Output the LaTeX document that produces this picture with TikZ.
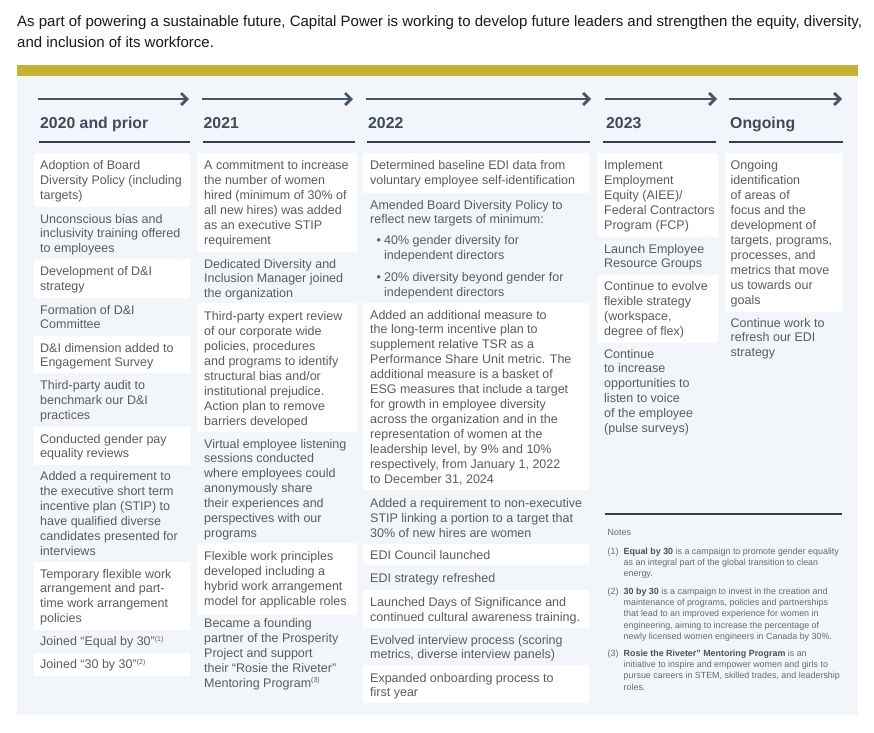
\documentclass[tikz,border=0pt]{standalone}
\usepackage{fontspec}
\setmainfont{Liberation Sans}
\usetikzlibrary{arrows.meta}
\definecolor{panel}{RGB}{242,245,249}
\definecolor{gold}{RGB}{196,178,50}
\definecolor{txt}{RGB}{92,92,92}
\definecolor{titlec}{RGB}{25,25,25}
\definecolor{head}{RGB}{62,75,88}
\definecolor{arrowc}{RGB}{72,86,99}
\definecolor{rulec}{RGB}{55,62,70}
\definecolor{notec}{RGB}{105,105,105}
\definecolor{noteb}{RGB}{80,80,80}
\newcommand{\supn}[1]{\textsuperscript{\fontsize{7}{7}\selectfont(#1)}}
% item text: name, x, first baseline, text
\newcommand{\itm}[4]{\node[itm] (#1) at (#2,#3-10) {\rule{0pt}{10pt}#4};}
% note text: name, x, first baseline, text
\newcommand{\nte}[4]{\node[notet] (#1) at (#2,#3-7.5) {\rule{0pt}{7.5pt}#4};}
\begin{document}
\begin{tikzpicture}[x=1pt,y=-1pt,
  itm/.style={anchor=north west, inner sep=0pt, align=left, text=txt, font=\fontsize{12.5}{14.95}\selectfont},
  hdr/.style={anchor=base west, inner sep=0pt, text=head, font=\fontsize{15.8}{18}\selectfont\bfseries},
  ttl/.style={anchor=base west, inner sep=0pt, text=titlec, font=\fontsize{15}{18}\selectfont},
  arr/.style={draw=arrowc, line width=2.8pt, -{Straight Barb[length=6pt,width=12pt]}},
  rul/.style={draw=rulec, line width=1.1pt},
  wbox/.style={fill=white},
  notet/.style={anchor=north west, inner sep=0pt, align=left, text=notec, font=\fontsize{8.9}{11.2}\selectfont},
]
\useasboundingbox (0,0) rectangle (874,732);
\fill[white] (0,0) rectangle (874,732);
% title
\node[ttl] (t1) at (17,26.5) {As part of powering a sustainable future, Capital Power is working to develop future leaders and strengthen the equity, diversity,};
\node[ttl] (t2) at (17,47) {and inclusion of its workforce.};
% panel
\fill[gold] (17,65) rectangle (858,76);
\fill[panel] (17,76) rectangle (858,715);
% arrows
\coordinate (a1s) at (38,99);  \coordinate (a1e) at (189,99);
\coordinate (a2s) at (202,99); \coordinate (a2e) at (353,99);
\coordinate (a3s) at (366,99); \coordinate (a3e) at (591,99);
\coordinate (a4s) at (605,99); \coordinate (a4e) at (717,99);
\coordinate (a5s) at (729,99); \coordinate (a5e) at (842,99);
\foreach \i in {1,...,5} {\draw[arr] (a\i s) -- (a\i e);}
% headers
\node[hdr] (h1) at (40,128.7) {2020 and prior};
\node[hdr] (h2) at (203.5,128.7) {2021};
\node[hdr] (h3) at (368,128.7) {2022};
\node[hdr] (h4) at (606,128.7) {2023};
\node[hdr] (h5) at (730,128.7) {Ongoing};
% underlines
\coordinate (u1s) at (39,142);  \coordinate (u1e) at (190,142);
\coordinate (u2s) at (203,142); \coordinate (u2e) at (355,142);
\coordinate (u3s) at (367,142); \coordinate (u3e) at (590,142);
\coordinate (u4s) at (603,142); \coordinate (u4e) at (716,142);
\coordinate (u5s) at (729,142); \coordinate (u5e) at (843,142);
\foreach \i in {1,...,5} {\draw[rul] (u\i s) -- (u\i e);}
% white boxes
\fill[wbox] (34,153) rectangle (190,207);
\fill[wbox] (34,259) rectangle (190,298);
\fill[wbox] (34,336) rectangle (190,373);
\fill[wbox] (34,427) rectangle (190,465);
\fill[wbox] (34,562) rectangle (190,630);
\fill[wbox] (34,653) rectangle (190,676);
\fill[wbox] (198,153) rectangle (357,252);
\fill[wbox] (198,303) rectangle (357,432);
\fill[wbox] (198,543) rectangle (357,615);
\fill[wbox] (363,153) rectangle (589,193);
\fill[wbox] (363,303) rectangle (589,490);
\fill[wbox] (363,544) rectangle (589,565);
\fill[wbox] (363,590) rectangle (589,628);
\fill[wbox] (363,665) rectangle (589,703);
\fill[wbox] (598,153) rectangle (718,237);
\fill[wbox] (598,275) rectangle (718,343);
\fill[wbox] (726,153) rectangle (843,312);
% column 1
\itm{c1a}{40}{169.5}{Adoption of Board\\Diversity Policy (including\\targets)}
\itm{c1b}{40}{222.8}{Unconscious bias and\\inclusivity training offered\\to employees}
\itm{c1c}{40}{275.5}{Development of D\&I\\strategy}
\itm{c1d}{40}{313.8}{Formation of D\&I\\Committee}
\itm{c1e}{40}{351.8}{D\&I dimension added to\\Engagement Survey}
\itm{c1f}{40}{389.5}{Third-party audit to\\benchmark our D\&I\\practices}
\itm{c1g}{40}{442.8}{Conducted gender pay\\equality reviews}
\itm{c1h}{40}{480.5}{Added a requirement to\\the executive short term\\incentive plan (STIP) to\\have qualified diverse\\candidates presented for\\interviews}
\itm{c1i}{40}{577.8}{Temporary flexible work\\arrangement and part-\\time work arrangement\\policies}
\itm{c1j}{40}{645.2}{Joined “Equal by 30”\supn{1}}
\itm{c1k}{40}{668.5}{Joined “30 by 30”\supn{2}}
% column 2
\itm{c2a}{204}{169.5}{A commitment to increase\\the number of women\\hired (minimum of 30\% of\\all new hires) was added\\as an executive STIP\\requirement}
\itm{c2b}{204}{267.8}{Dedicated Diversity and\\Inclusion Manager joined\\the organization}
\itm{c2c}{204}{320.5}{Third-party expert review\\of our corporate wide\\policies, procedures\\and programs to identify\\structural bias and/or\\institutional prejudice.\\Action plan to remove\\barriers developed}
\itm{c2d}{204}{447.8}{Virtual employee listening\\sessions conducted\\where employees could\\anonymously share\\their experiences and\\perspectives with our\\programs}
\itm{c2e}{204}{560.5}{Flexible work principles\\developed including a\\hybrid work arrangement\\model for applicable roles}
\itm{c2f}{204}{627.2}{Became a founding\\partner of the Prosperity\\Project and support\\their “Rosie the Riveter”\\Mentoring Program\supn{3}}
% column 3
\itm{c3a}{370}{169.5}{Determined baseline EDI data from\\voluntary employee self-identification}
\itm{c3b}{370}{208.8}{Amended Board Diversity Policy to\\reflect new targets of minimum:}
\itm{c3b1}{376.5}{244.5}{•}
\itm{c3b1t}{384}{244.5}{40\% gender diversity for\\independent directors}
\itm{c3b2}{376.5}{281.2}{•}
\itm{c3b2t}{384}{281.2}{20\% diversity beyond gender for\\independent directors}
\itm{c3c}{370}{318.8}{Added an additional measure to\\the long-term incentive plan to\\supplement relative TSR as a\\Performance Share Unit metric. The\\additional measure is a basket of\\ESG measures that include a target\\for growth in employee diversity\\across the organization and in the\\representation of women at the\\leadership level, by 9\% and 10\%\\respectively, from January 1, 2022\\to December 31, 2024}
\itm{c3d}{370}{507.2}{Added a requirement to non-executive\\STIP linking a portion to a target that\\30\% of new hires are women}
\itm{c3e}{370}{559.5}{EDI Council launched}
\itm{c3f}{370}{582.2}{EDI strategy refreshed}
\itm{c3g}{370}{606.2}{Launched Days of Significance and\\continued cultural awareness training.}
\itm{c3h}{370}{643.8}{Evolved interview process (scoring\\metrics, diverse interview panels)}
\itm{c3i}{370}{681.8}{Expanded onboarding process to\\first year}
% column 4
\itm{c4a}{604}{169.5}{Implement\\Employment\\Equity (AIEE)/\\Federal Contractors\\Program (FCP)}
\itm{c4b}{604}{252.8}{Launch Employee\\Resource Groups}
\itm{c4c}{604}{290.2}{Continue to evolve\\flexible strategy\\(workspace,\\degree of flex)}
\itm{c4d}{604}{357.8}{Continue\\to increase\\opportunities to\\listen to voice\\of the employee\\(pulse surveys)}
% column 5
\itm{c5a}{730.5}{169.5}{Ongoing\\identification\\of areas of\\focus and the\\development of\\targets, programs,\\processes, and\\metrics that move\\us towards our\\goals}
\itm{c5b}{730.5}{326.8}{Continue work to\\refresh our EDI\\strategy}
% notes
\coordinate (nls) at (605,514); \coordinate (nle) at (842,514);
\draw[rul] (nls) -- (nle);
\nte{n0}{607.5}{535}{Notes}
\nte{n1n}{607.5}{554}{(1)}
\nte{n1}{623.5}{554}{\textcolor{noteb}{\bfseries Equal by 30} is a campaign to promote gender equality\\as an integral part of the global transition to clean\\energy.}
\nte{n2n}{607.5}{594.2}{(2)}
\nte{n2}{623.5}{594.2}{\textcolor{noteb}{\bfseries 30 by 30} is a campaign to invest in the creation and\\maintenance of programs, policies and partnerships\\that lead to an improved experience for women in\\engineering, aiming to increase the percentage of\\newly licensed women engineers in Canada by 30\%.}
\nte{n3n}{607.5}{656.2}{(3)}
\nte{n3}{623.5}{656.2}{\textcolor{noteb}{\bfseries Rosie the Riveter” Mentoring Program} is an\\initiative to inspire and empower women and girls to\\pursue careers in STEM, skilled trades, and leadership\\roles.}
\end{tikzpicture}
\end{document}
